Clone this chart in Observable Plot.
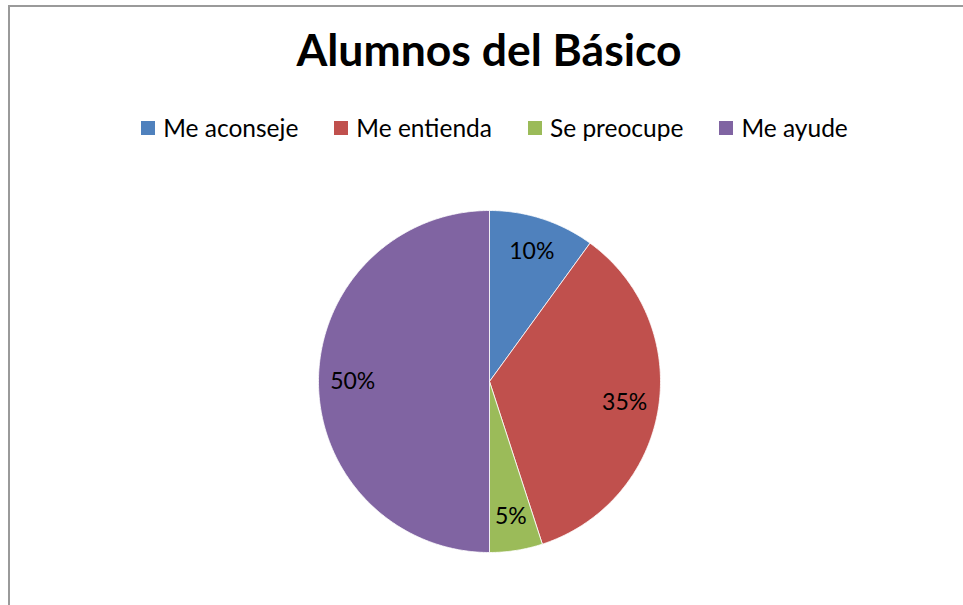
<!DOCTYPE html>
<html>
<head>
<meta charset="utf-8">
<script src="https://cdn.jsdelivr.net/npm/d3@7"></script>
<script src="https://cdn.jsdelivr.net/npm/@observablehq/plot@0.6"></script>
<style>
  html, body { margin: 0; padding: 0; background: #fff; }
  body { width: 963px; height: 605px; position: relative; overflow: hidden; font-family: Lato, "Open Sans", sans-serif; }
  #frame { position: absolute; left: 8px; top: 5px; width: 970px; height: 620px; border-left: 2px solid #9a9a9a; border-top: 2px solid #9a9a9a; box-sizing: border-box; pointer-events: none; }
  #title { position: absolute; left: 0; top: 27px; width: 978px; text-align: center; font-weight: bold; font-size: 44.5px; color: #000; line-height: 44px; }
  #legend { position: absolute; left: 0; top: 116px; width: 989px; display: flex; justify-content: center; font-size: 24.5px; color: #000; line-height: 24px; }
  .item { display: flex; align-items: center; margin: 0 18px; }
  .sw { width: 14px; height: 14px; margin-right: 8px; }
  #chart { position: absolute; left: 0; top: 170px; }
</style>
</head>
<body>
<div id="title"></div>
<div id="legend"></div>
<div id="chart"></div>
<div id="frame"></div>
<script>
const title = "Alumnos del Básico";
const categories = ["Me aconseje", "Me entienda", "Se preocupe", "Me ayude"];
const values = [10, 35, 5, 50];
const colors = ["#4F81BD", "#C0504D", "#9BBB59", "#8064A2"];
const labels = ["10%", "35%", "5%", "50%"];

document.getElementById("title").textContent = title;
const legend = document.getElementById("legend");
categories.forEach((c, i) => {
  const it = document.createElement("div");
  it.className = "item";
  const sw = document.createElement("div");
  sw.className = "sw";
  sw.style.background = colors[i];
  const t = document.createElement("span");
  t.textContent = c;
  it.appendChild(sw); it.appendChild(t);
  legend.appendChild(it);
});

const arcs = d3.pie().sort(null).value(d => d)(values);
const slices = [];
arcs.forEach((a, i) => {
  const cat = categories[i];
  slices.push({cat, x: 0, y: 0});
  const n = Math.max(2, Math.ceil((a.endAngle - a.startAngle) / (Math.PI / 360)));
  for (let k = 0; k <= n; k++) {
    const t = a.startAngle + (a.endAngle - a.startAngle) * k / n;
    slices.push({cat, x: Math.sin(t), y: Math.cos(t)});
  }
  slices.push({cat, x: 0, y: 0});
});
const labelPts = arcs.map((a, i) => {
  const m = (a.startAngle + a.endAngle) / 2;
  return {label: labels[i], x: 0.8 * Math.sin(m), y: 0.8 * Math.cos(m)};
});

const chart = Plot.plot({
  width: 963,
  height: 435,
  marginLeft: 318,
  marginRight: 303,
  marginTop: 40,
  marginBottom: 53,
  x: {domain: [-1, 1], axis: null},
  y: {domain: [-1, 1], axis: null},
  color: {domain: categories, range: colors},
  style: {fontFamily: "Lato, 'Open Sans', sans-serif", background: "transparent"},
  marks: [
    Plot.line(slices, {x: "x", y: "y", z: "cat", fill: "cat", stroke: "white", strokeWidth: 0.8, curve: "linear"}),
    Plot.text(labelPts, {x: "x", y: "y", text: "label", fontSize: 23, fill: "#000"})
  ]
});
document.getElementById("chart").appendChild(chart);
</script>
</body>
</html>
